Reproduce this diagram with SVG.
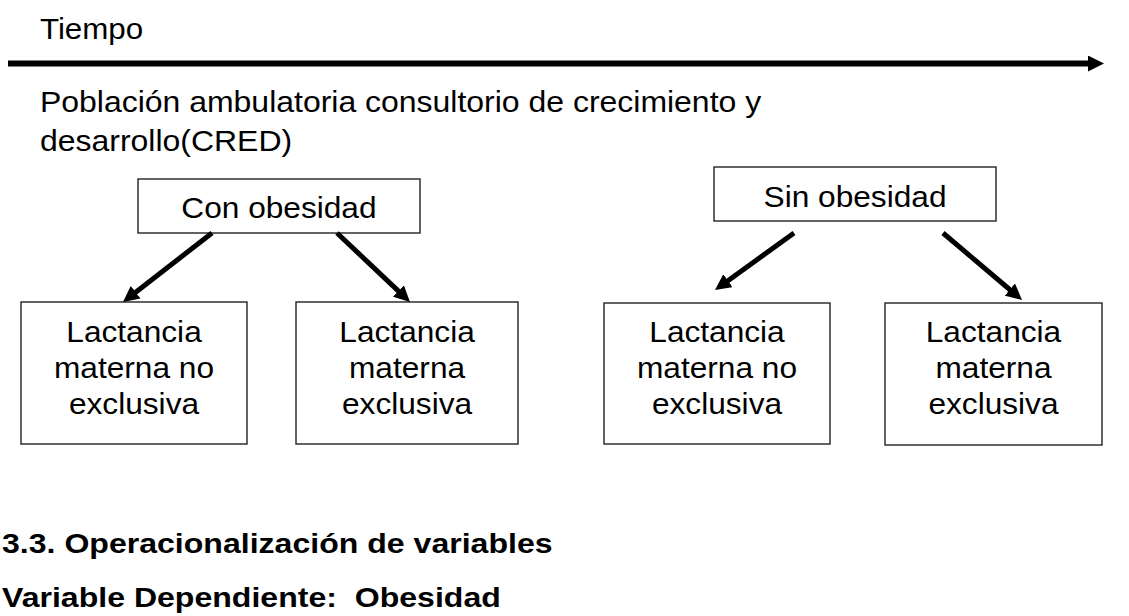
<svg xmlns="http://www.w3.org/2000/svg" width="1129" height="616" viewBox="0 0 1129 616">
<style>
text{font-family:"Liberation Sans",Arial,sans-serif;fill:#000;}
.t{font-size:29px;}
.p{font-size:29.6px;}
.c{font-size:29.3px;text-anchor:middle;}
.b{font-size:28.5px;font-weight:bold;white-space:pre;}
.box{fill:#fff;stroke:#222;stroke-width:1.4;}
.arr{stroke:#000;stroke-width:5;fill:none;marker-end:url(#ah);}
</style>
<defs>
<marker id="ah" markerUnits="userSpaceOnUse" markerWidth="16" markerHeight="16" refX="6" refY="8" orient="auto">
<path d="M0,0 L16,8 L0,16 z" fill="#000"/>
</marker>
</defs>
<rect width="1129" height="616" fill="#fff"/>
<g id="tiempo">
<text class="t" transform="scale(1.08 1)" x="37" y="39">Tiempo</text>
</g>
<g id="poblacion">
<text class="p" transform="scale(1.08 1)" x="37" y="112">Población ambulatoria consultorio de crecimiento y</text>
<text class="p" transform="scale(1.08 1)" x="37" y="151">desarrollo(CRED)</text>
</g>
<g id="con-obesidad">
<rect class="box" x="138" y="179" width="282" height="54"/>
<text class="c" transform="scale(1.08 1)" x="258.3" y="218">Con obesidad</text>
</g>
<g id="sin-obesidad">
<rect class="box" x="714" y="167" width="282" height="54"/>
<text class="c" transform="scale(1.08 1)" x="791.7" y="207">Sin obesidad</text>
</g>
<g id="con-no-exclusiva">
<rect class="box" x="21" y="302" width="226" height="142"/>
<text class="c" transform="scale(1.08 1)" x="124.1" y="342.5">Lactancia</text>
<text class="c" transform="scale(1.08 1)" x="124.1" y="378.5">materna no</text>
<text class="c" transform="scale(1.08 1)" x="124.1" y="414">exclusiva</text>
</g>
<g id="con-exclusiva">
<rect class="box" x="296" y="302" width="222" height="142"/>
<text class="c" transform="scale(1.08 1)" x="376.9" y="342.5">Lactancia</text>
<text class="c" transform="scale(1.08 1)" x="376.9" y="378.5">materna</text>
<text class="c" transform="scale(1.08 1)" x="376.9" y="414">exclusiva</text>
</g>
<g id="sin-no-exclusiva">
<rect class="box" x="604" y="303" width="226" height="141"/>
<text class="c" transform="scale(1.08 1)" x="663.9" y="342.5">Lactancia</text>
<text class="c" transform="scale(1.08 1)" x="663.9" y="378.5">materna no</text>
<text class="c" transform="scale(1.08 1)" x="663.9" y="414">exclusiva</text>
</g>
<g id="sin-exclusiva">
<rect class="box" x="885" y="303" width="217" height="142"/>
<text class="c" transform="scale(1.08 1)" x="919.9" y="342.5">Lactancia</text>
<text class="c" transform="scale(1.08 1)" x="919.9" y="378.5">materna</text>
<text class="c" transform="scale(1.08 1)" x="919.9" y="414">exclusiva</text>
</g>
<g id="connectors">
<line x1="8" y1="63.5" x2="1094" y2="63.5" stroke="#000" stroke-width="6" marker-end="url(#ah)"/>
<line class="arr" x1="212" y1="233" x2="130.9" y2="295.9"/>
<line class="arr" x1="337" y1="233" x2="402.7" y2="295.1"/>
<line class="arr" x1="794" y1="233" x2="723.1" y2="284.2"/>
<line class="arr" x1="943" y1="233" x2="1014.4" y2="293.5"/>
</g>
<g id="heading">
<text class="b" transform="scale(1.125 1)" x="1.8" y="553">3.3. Operacionalización de variables</text>
<text class="b" transform="scale(1.125 1)" x="1.8" y="607">Variable Dependiente:  Obesidad</text>
</g>
</svg>
